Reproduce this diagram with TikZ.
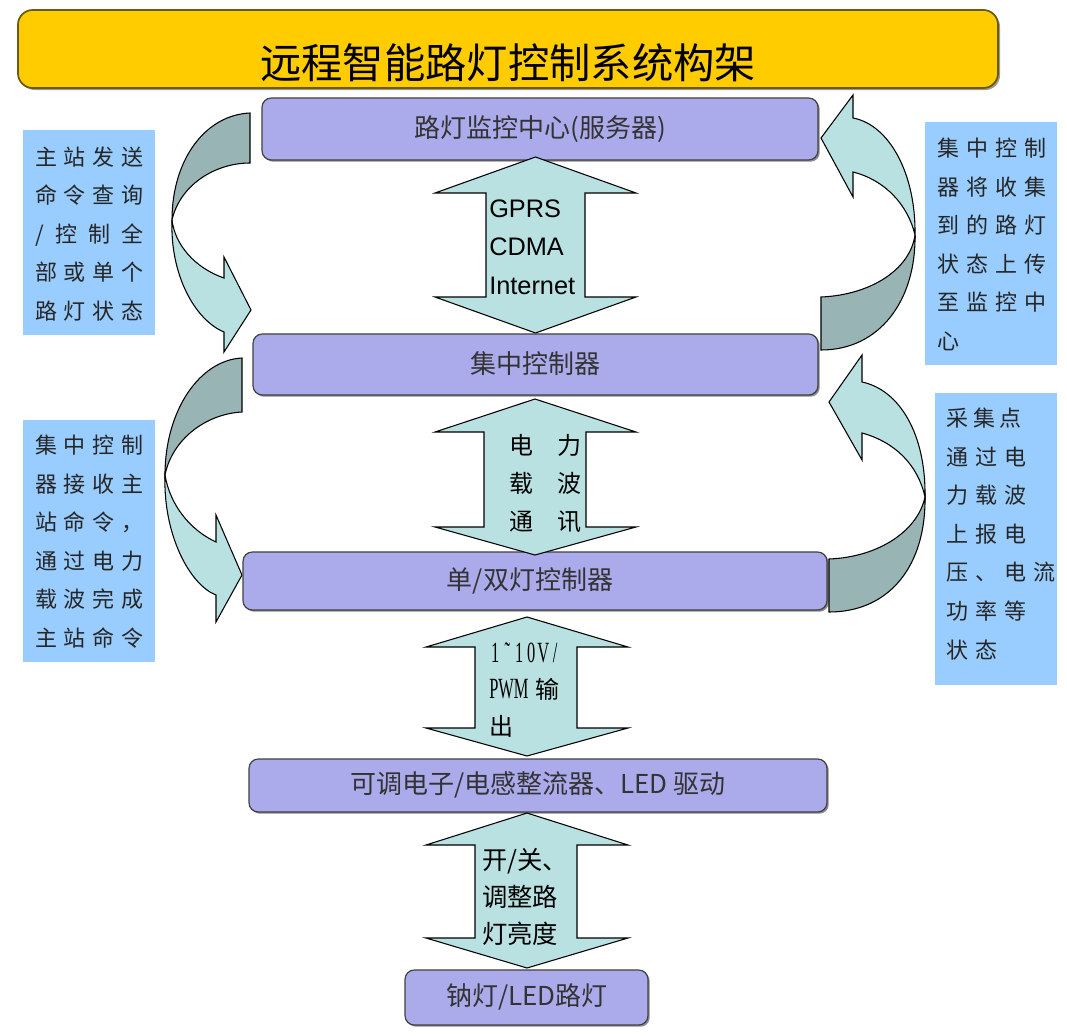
\documentclass[tikz,border=0pt]{standalone}
\usepackage{fontspec}
\setmainfont{Liberation Sans}
\newfontfamily\cjk{Noto Sans CJK SC}
\newfontfamily\serifN[FakeStretch=0.56]{Liberation Serif}
\usetikzlibrary{fit,shadows}
\definecolor{gold}{HTML}{FFCC00}
\definecolor{goldedge}{HTML}{6B5A10}
\definecolor{lav}{RGB}{171,171,236}
\definecolor{sideblue}{HTML}{99CCFF}
\definecolor{cyanl}{RGB}{185,225,225}
\definecolor{tealdk}{RGB}{152,180,180}
\newlength\sppitch \setlength\sppitch{21.75pt}
\newlength\splw \setlength\splw{81.75pt}
\newcommand\splaux[1]{\ifx\relax#1\else\makebox[\sppitch][l]{#1}\expandafter\splaux\fi}
\newcommand\spl[1]{\makebox[\splw][l]{\splaux#1\relax}}
\newcommand\hwaux[1]{\ifx\relax#1\else\makebox[9pt][c]{#1}\expandafter\hwaux\fi}
\newcommand\hw[1]{{\serifN\hwaux#1\relax}}
\begin{document}
\begin{tikzpicture}[x=0.75pt,y=-0.75pt,
  pbox/.style={draw=black!75, line width=0.9pt, rounded corners=7pt, fill=lav, inner sep=0pt,
    drop shadow={shadow xshift=1.3pt, shadow yshift=-1.3pt, opacity=0.45, fill=black}},
  ptext/.style={inner sep=0pt, font=\cjk\fontsize{19.5}{23}\selectfont, text=black!80},
  titlebox/.style={draw=goldedge, line width=1.3pt, rounded corners=11pt, fill=gold, inner sep=0pt,
    drop shadow={shadow xshift=1.5pt, shadow yshift=-1.5pt, opacity=0.4, fill=black}},
  sidebox/.style={fill=sideblue, inner sep=0pt},
  sidetext/.style={inner sep=0pt, align=left, font=\cjk\fontsize{16.5}{28.9}\selectfont, text=black!85},
  dblarrow/.style={fill=cyanl, draw=black, line width=0.8pt, line join=miter},
  cfront/.style={fill=cyanl, draw=black, line width=0.8pt, line join=miter},
  cback/.style={fill=tealdk, draw=black, line width=0.8pt, line join=miter},
  lbl/.style={inner sep=0pt, anchor=west, align=left, text=black}
]
\fill[white] (0,0) rectangle (1067,1035);
\useasboundingbox (0,0) rectangle (1067,1035);

% title
\node[titlebox, fit={(18,10) (998,88)}] (titlebg) {};
\node[inner sep=0pt, font=\cjk\fontsize{31}{36}\selectfont] (title) at (508,63) {远程智能路灯控制系统构架};

% side boxes
\node[sidebox, fit={(23,130) (155,335)}] (sb1) {};
\node[sidetext] (sb1t) at (89.5,234) {\spl{主站发送}\\\spl{命令查询}\\\makebox[81.75pt][l]{/\hfill 控\hfill 制\hfill 全}\\\spl{部或单个}\\\spl{路灯状态}};
\node[sidebox, fit={(925,122) (1057,365)}] (sb2) {};
\node[sidetext] (sb2t) at (991.5,244.5) {\spl{集中控制}\\\spl{器将收集}\\\spl{到的路灯}\\\spl{状态上传}\\\spl{至监控中}\\\spl{心}};
\node[sidebox, fit={(23,420) (155,662)}] (sb3) {};
\node[sidetext] (sb3t) at (89.5,541.5) {\spl{集中控制}\\\spl{器接收主}\\\spl{站命令，}\\\spl{通过电力}\\\spl{载波完成}\\\spl{主站命令}};
\node[sidebox, fit={(935,393) (1057,685)}] (sb4) {};
\node[sidetext] (sb4t) at (1001,534) {\setlength\sppitch{20pt}\setlength\splw{76.5pt}%
  \spl{采集点}\\\spl{通过电}\\\spl{力载波}\\\spl{上报电}\\\spl{压、电流}\\\spl{功率等}\\\spl{状态}};

% curved arrows
\draw[cback] (250,113) .. controls (205,115) and (172,160) .. (172,220) .. controls (180,185) and (215,163) .. (250,163) -- cycle;
\draw[cfront] (172,220) .. controls (170,275) and (195,320) .. (224,332) -- (224,352) -- (251,310) -- (224,257) -- (224,278) .. controls (195,268) and (175,245) .. (172,220) -- cycle;

\draw[cback] (242,358) .. controls (200,360) and (165,410) .. (165,475) .. controls (172,440) and (205,414) .. (242,412) -- cycle;
\draw[cfront] (165,475) .. controls (163,535) and (190,585) .. (216,595) -- (216,622) -- (242,575) -- (216,515) -- (216,542) .. controls (190,530) and (170,505) .. (165,475) -- cycle;

\draw[cback] (821,297) .. controls (870,295) and (910,270) .. (915,235) .. controls (916,300) and (880,350) .. (821,350) -- cycle;
\draw[cfront] (915,235) .. controls (916,175) and (890,125) .. (853,118) -- (853,95) -- (821,138) -- (853,197) -- (853,172) .. controls (885,180) and (908,205) .. (915,235) -- cycle;

\draw[cback] (829,559) .. controls (880,557) and (918,530) .. (925,497) .. controls (926,565) and (890,612) .. (829,612) -- cycle;
\draw[cfront] (925,497) .. controls (926,435) and (900,390) .. (862,382) -- (862,355) -- (829,402) -- (862,460) -- (862,433) .. controls (895,442) and (918,465) .. (925,497) -- cycle;

% main boxes
\node[pbox, fit={(262,98) (818,160)}] (b1) {};
\node[ptext] (b1t) at (540,129) {路灯监控中心(服务器)};
\node[pbox, fit={(253,334) (818,395)}] (b2) {};
\node[ptext] (b2t) at (535,364) {集中控制器};
\node[pbox, fit={(243,552) (827,610)}] (b3) {};
\node[ptext] (b3t) at (530,581) {单/双灯控制器};
\node[pbox, fit={(249,759) (827,812)}] (b4) {};
\node[ptext] (b4t) at (538,785) {可调电子/电感整流器、LED 驱动};
\node[pbox, fit={(405,970) (648,1025)}] (b5) {};
\node[ptext] (b5t) at (527,997) {钠灯/LED路灯};

% double arrows
\draw[dblarrow] (535.5,157) -- (636,193) -- (585,193) -- (585,297) -- (636,297) -- (535.5,333) -- (435,297) -- (486,297) -- (486,193) -- (435,193) -- cycle;
\draw[dblarrow] (535,399) -- (636,432) -- (586,432) -- (586,527) -- (636,527) -- (535,555) -- (435,527) -- (484,527) -- (484,432) -- (435,432) -- cycle;
\draw[dblarrow] (527,617) -- (628,647) -- (577,647) -- (577,728) -- (628,728) -- (527,756) -- (426,728) -- (475,728) -- (475,647) -- (426,647) -- cycle;
\draw[dblarrow] (527,813) -- (628,845) -- (577,845) -- (577,938) -- (628,938) -- (527,968) -- (426,938) -- (475,938) -- (475,845) -- (426,845) -- cycle;

% arrow labels
\node[lbl, font=\fontsize{22}{27.5}\selectfont] (t3) at (489,690) {\hw{1˜10V/}\\{\serifN PWM}\hspace{5pt}{\cjk\fontsize{18}{27.5}\selectfont 输}\\{\cjk\fontsize{18}{27.5}\selectfont 出}};
\node[lbl, font=\fontsize{19}{29}\selectfont] (t1) at (489,247) {GPRS\\CDMA\\Internet};
\node[inner sep=0pt, align=center, font=\cjk\fontsize{18}{28.5}\selectfont] (t2) at (545,484) {电\hspace{18pt}力\\载\hspace{18pt}波\\通\hspace{18pt}讯};
\node[lbl, font=\cjk\fontsize{19}{28}\selectfont] (t4) at (482,897) {开/关、\\调整路\\灯亮度};
\end{tikzpicture}
\end{document}
